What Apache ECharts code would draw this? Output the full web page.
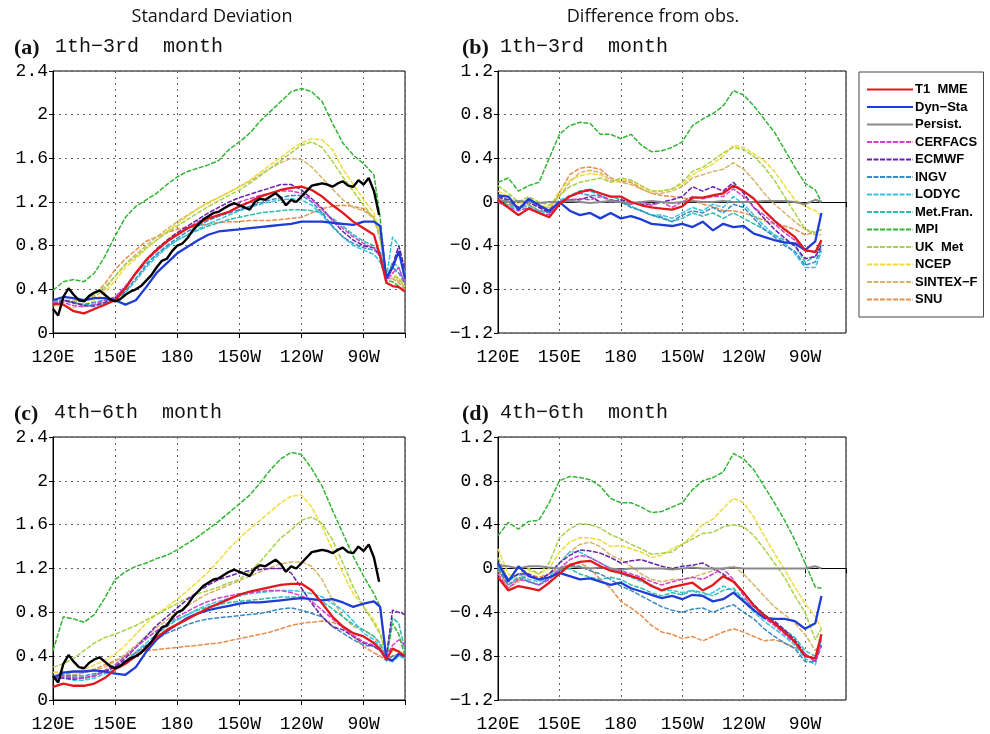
<!DOCTYPE html>
<html>
<head>
<meta charset="utf-8">
<script src="https://cdn.jsdelivr.net/npm/echarts@6/dist/echarts.min.js"></script>
<style>
  html, body { margin: 0; padding: 0; background: #fff; }
  #chart { width: 990px; height: 734px; }
</style>
</head>
<body>
<div id="chart"></div>
<script>
// longitude grids (degrees east)
const lonS = [120,125,130,135,140,145,150,155,160,165,170,175,180,185,190,195,200,205,210,215,220,225,230,235,240,245,250,255,260,265,270,275,278,281,284,287,290];
const lonD = [120,125,130,135,140,145,150,155,160,165,170,175,180,185,190,195,200,205,210,215,220,225,230,235,240,245,250,255,260,265,270,275,278];
const lonObs = [120,122.5,125,127.5,130,132.5,135,137.5,140,142.5,145,147.5,150,152.5,155,157.5,160,162.5,165,167.5,170,172.5,175,177.5,180,182.5,185,187.5,190,192.5,195,197.5,200,202.5,205,207.5,210,212.5,215,217.5,220,222.5,225,227.5,230,232.5,235,237.5,240,242.5,245,247.5,250,252.5,255,257.5,260,262.5,265,267.5,270,272.5,275,277.5];

const xTicks = {120: '120E', 150: '150E', 180: '180', 210: '150W', 240: '120W', 270: '90W'};

// observed std (black)
const obsStd = [0.22,0.16,0.33,0.41,0.35,0.30,0.29,0.34,0.37,0.39,0.35,0.31,0.29,0.31,0.35,0.38,0.40,0.43,0.48,0.53,0.60,0.66,0.68,0.75,0.80,0.82,0.87,0.94,0.99,1.04,1.07,1.10,1.11,1.14,1.17,1.19,1.17,1.15,1.13,1.20,1.23,1.22,1.25,1.28,1.24,1.17,1.22,1.20,1.25,1.30,1.35,1.36,1.37,1.36,1.34,1.37,1.39,1.35,1.34,1.40,1.36,1.42,1.30,1.08];

// (a) std, 1th-3rd month
const t1A = [0.27,0.26,0.20,0.18,0.22,0.26,0.30,0.41,0.55,0.67,0.76,0.84,0.90,0.96,1.00,1.05,1.08,1.11,1.16,1.20,1.25,1.28,1.31,1.33,1.34,1.31,1.25,1.17,1.10,1.02,0.96,0.90,0.70,0.46,0.43,0.42,0.38];
const dynA = [0.30,0.33,0.32,0.30,0.32,0.32,0.30,0.26,0.30,0.42,0.55,0.64,0.73,0.79,0.85,0.90,0.93,0.94,0.95,0.96,0.97,0.98,0.99,1.00,1.02,1.02,1.02,1.01,1.00,0.99,1.02,1.02,0.98,0.50,0.60,0.75,0.50];
const cerfacsA = [0.28,0.28,0.25,0.24,0.26,0.30,0.33,0.43,0.55,0.66,0.75,0.83,0.90,0.96,1.02,1.07,1.12,1.16,1.20,1.23,1.26,1.28,1.30,1.30,1.28,1.22,1.13,1.04,0.96,0.88,0.82,0.78,0.70,0.48,0.55,0.60,0.45];
const ecmwfA = [0.25,0.30,0.28,0.25,0.25,0.28,0.32,0.42,0.55,0.67,0.77,0.85,0.92,0.98,1.04,1.10,1.15,1.20,1.24,1.27,1.30,1.33,1.36,1.36,1.31,1.23,1.14,1.03,0.93,0.85,0.80,0.78,0.70,0.50,0.62,0.80,0.58];
const ingvA = [0.30,0.30,0.27,0.26,0.28,0.30,0.31,0.38,0.50,0.62,0.72,0.80,0.87,0.93,0.98,1.03,1.07,1.10,1.13,1.16,1.19,1.22,1.24,1.26,1.26,1.20,1.10,0.98,0.88,0.82,0.78,0.76,0.72,0.50,0.60,0.55,0.45];
const lodycA = [0.27,0.30,0.28,0.25,0.24,0.28,0.30,0.37,0.48,0.60,0.70,0.78,0.85,0.90,0.95,1.00,1.04,1.08,1.12,1.15,1.18,1.20,1.22,1.23,1.22,1.17,1.08,0.97,0.88,0.80,0.76,0.72,0.65,0.50,0.88,0.80,0.55];
const metfrA = [0.26,0.30,0.28,0.26,0.26,0.28,0.32,0.42,0.54,0.64,0.72,0.79,0.85,0.90,0.94,0.98,1.01,1.04,1.06,1.08,1.10,1.11,1.12,1.13,1.13,1.12,1.10,1.05,0.98,0.90,0.84,0.80,0.75,0.50,0.65,0.60,0.45];
const mpiA = [0.39,0.47,0.49,0.47,0.55,0.70,0.89,1.06,1.16,1.22,1.28,1.36,1.43,1.48,1.51,1.54,1.58,1.68,1.75,1.83,1.94,2.03,2.12,2.21,2.24,2.21,2.12,1.92,1.74,1.63,1.55,1.45,1.05,0.48,0.47,0.43,0.37];
const ukA = [0.28,0.30,0.28,0.30,0.35,0.42,0.52,0.63,0.70,0.78,0.85,0.92,0.98,1.04,1.10,1.16,1.21,1.26,1.31,1.37,1.44,1.51,1.58,1.65,1.72,1.75,1.70,1.57,1.43,1.30,1.17,1.05,0.85,0.55,0.52,0.50,0.42];
const ncepA = [0.25,0.25,0.23,0.26,0.30,0.37,0.48,0.60,0.68,0.77,0.85,0.93,1.00,1.07,1.14,1.20,1.24,1.29,1.34,1.40,1.47,1.54,1.61,1.68,1.74,1.78,1.77,1.68,1.50,1.36,1.22,1.10,0.90,0.55,0.55,0.50,0.45];
const sintexA = [0.28,0.30,0.30,0.30,0.33,0.40,0.52,0.63,0.72,0.80,0.88,0.95,1.02,1.08,1.14,1.19,1.24,1.29,1.34,1.39,1.45,1.51,1.56,1.60,1.59,1.52,1.42,1.32,1.22,1.15,1.12,1.05,0.90,0.50,0.50,0.48,0.42];
const snuA = [0.30,0.30,0.28,0.30,0.35,0.45,0.58,0.68,0.76,0.84,0.88,0.92,0.95,0.97,0.98,1.00,1.01,1.02,1.02,1.03,1.03,1.03,1.04,1.05,1.06,1.10,1.14,1.16,1.17,1.16,1.14,1.06,0.90,0.50,0.50,0.46,0.40];

// (c) std, 4th-6th month
const t1C = [0.12,0.15,0.13,0.13,0.15,0.20,0.28,0.33,0.40,0.47,0.57,0.64,0.69,0.74,0.79,0.84,0.88,0.92,0.96,0.99,1.01,1.03,1.05,1.06,1.06,1.00,0.88,0.76,0.67,0.61,0.58,0.52,0.46,0.37,0.47,0.44,0.40];
const dynC = [0.20,0.25,0.26,0.26,0.27,0.26,0.24,0.23,0.30,0.44,0.55,0.63,0.69,0.75,0.79,0.82,0.84,0.86,0.88,0.89,0.89,0.90,0.91,0.92,0.93,0.92,0.91,0.92,0.89,0.85,0.88,0.90,0.85,0.38,0.36,0.42,0.40];
const cerfacsC = [0.20,0.22,0.20,0.20,0.22,0.27,0.32,0.40,0.48,0.56,0.63,0.70,0.76,0.81,0.86,0.90,0.93,0.95,0.97,0.98,0.99,1.00,1.00,0.98,0.95,0.90,0.82,0.74,0.66,0.59,0.53,0.50,0.46,0.40,0.50,0.55,0.50];
const ecmwfC = [0.20,0.20,0.19,0.20,0.22,0.26,0.30,0.38,0.48,0.58,0.68,0.76,0.84,0.92,0.99,1.05,1.10,1.13,1.16,1.18,1.19,1.20,1.20,1.16,1.02,0.88,0.76,0.67,0.64,0.58,0.52,0.49,0.45,0.40,0.82,0.80,0.78];
const ingvC = [0.22,0.23,0.22,0.22,0.24,0.26,0.30,0.36,0.43,0.50,0.56,0.61,0.65,0.69,0.72,0.74,0.75,0.76,0.77,0.78,0.79,0.81,0.83,0.84,0.82,0.79,0.76,0.67,0.61,0.55,0.50,0.49,0.45,0.36,0.40,0.42,0.40];
const lodycC = [0.20,0.20,0.18,0.18,0.20,0.24,0.28,0.35,0.44,0.52,0.60,0.67,0.73,0.78,0.83,0.87,0.90,0.93,0.95,0.97,0.98,0.99,1.00,1.00,0.99,0.97,0.94,0.88,0.82,0.72,0.61,0.55,0.48,0.36,0.35,0.40,0.38];
const metfrC = [0.22,0.22,0.20,0.20,0.22,0.27,0.32,0.40,0.48,0.56,0.63,0.69,0.74,0.78,0.82,0.85,0.87,0.89,0.90,0.91,0.92,0.93,0.94,0.94,0.94,0.92,0.90,0.83,0.76,0.69,0.64,0.58,0.52,0.38,0.75,0.70,0.45];
const mpiC = [0.45,0.76,0.74,0.71,0.78,0.93,1.10,1.17,1.22,1.25,1.29,1.32,1.37,1.43,1.49,1.56,1.63,1.71,1.79,1.87,1.98,2.10,2.20,2.26,2.24,2.11,1.95,1.73,1.52,1.31,1.13,0.97,0.85,0.38,0.70,0.60,0.40];
const ukC = [0.30,0.33,0.38,0.45,0.52,0.57,0.60,0.64,0.68,0.73,0.78,0.83,0.88,0.93,0.97,1.00,1.03,1.07,1.10,1.17,1.26,1.37,1.48,1.55,1.64,1.67,1.61,1.46,1.25,1.03,0.85,0.70,0.60,0.40,0.45,0.45,0.38];
const ncepC = [0.25,0.26,0.25,0.28,0.32,0.36,0.42,0.50,0.60,0.70,0.78,0.85,0.92,1.00,1.08,1.17,1.27,1.38,1.48,1.56,1.64,1.72,1.80,1.86,1.87,1.76,1.58,1.37,1.16,0.97,0.85,0.73,0.62,0.38,0.45,0.45,0.38];
const sintexC = [0.25,0.25,0.23,0.25,0.27,0.30,0.35,0.42,0.50,0.58,0.66,0.73,0.80,0.86,0.92,0.97,1.01,1.05,1.09,1.13,1.17,1.21,1.24,1.26,1.26,1.22,1.10,0.91,0.76,0.67,0.64,0.58,0.50,0.38,0.40,0.40,0.38];
const snuC = [0.22,0.22,0.22,0.25,0.28,0.32,0.36,0.40,0.43,0.45,0.46,0.47,0.48,0.49,0.50,0.51,0.52,0.54,0.56,0.58,0.60,0.62,0.65,0.68,0.70,0.71,0.72,0.71,0.67,0.58,0.49,0.43,0.40,0.36,0.40,0.42,0.40];

// (b) difference from obs, 1th-3rd month
const t1B = [0.02,-0.05,-0.12,-0.06,-0.10,-0.14,-0.02,0.05,0.09,0.11,0.08,0.05,0.05,0.00,-0.03,-0.05,-0.06,-0.07,-0.04,0.04,0.04,0.06,0.08,0.15,0.10,0.03,-0.08,-0.17,-0.25,-0.32,-0.44,-0.46,-0.35];
const dynB = [0.06,0.05,-0.07,0.03,-0.03,-0.08,0.00,-0.08,-0.12,-0.10,-0.15,-0.10,-0.15,-0.13,-0.16,-0.20,-0.21,-0.22,-0.20,-0.23,-0.18,-0.26,-0.20,-0.23,-0.22,-0.29,-0.32,-0.35,-0.37,-0.38,-0.44,-0.36,-0.10];
const persB = [0.02,0.00,0.01,0.00,-0.01,0.00,0.00,0.01,0.00,-0.01,0.00,0.01,0.00,-0.01,0.00,0.01,0.00,-0.01,0.00,0.01,0.00,0.00,0.01,0.00,0.00,0.00,0.01,0.01,0.01,0.00,-0.02,0.02,0.00];
const cerfacsB = [0.00,-0.05,-0.08,-0.05,-0.10,-0.12,0.00,0.02,0.03,0.02,0.05,0.02,0.00,-0.02,0.00,-0.03,0.00,-0.05,0.00,0.05,0.03,0.05,0.05,0.12,0.05,-0.05,-0.12,-0.20,-0.28,-0.35,-0.45,-0.45,-0.35];
const ecmwfB = [0.05,0.02,-0.05,0.00,-0.05,-0.10,0.00,0.02,0.02,0.05,0.00,0.00,0.02,0.00,-0.02,-0.02,0.00,0.02,0.05,0.14,0.10,0.14,0.10,0.18,0.08,-0.05,-0.15,-0.25,-0.33,-0.40,-0.52,-0.50,-0.40];
const ingvB = [0.05,0.00,-0.05,0.00,-0.05,-0.08,0.00,0.05,0.08,0.06,0.06,0.02,0.00,-0.05,-0.08,-0.12,-0.14,-0.18,-0.12,-0.08,-0.10,-0.05,-0.10,-0.02,-0.05,-0.15,-0.25,-0.32,-0.40,-0.45,-0.58,-0.55,-0.42];
const lodycB = [0.00,-0.03,-0.08,-0.05,-0.08,-0.10,0.02,0.05,0.10,0.10,0.06,0.00,0.00,-0.04,-0.08,-0.12,-0.12,-0.15,-0.10,-0.05,-0.08,-0.02,-0.05,0.05,-0.02,-0.12,-0.22,-0.30,-0.38,-0.47,-0.60,-0.60,-0.45];
const metfrB = [0.02,-0.03,-0.06,-0.03,-0.08,-0.10,0.00,0.06,0.10,0.12,0.08,0.05,0.02,-0.04,-0.08,-0.12,-0.15,-0.18,-0.15,-0.10,-0.13,-0.10,-0.15,-0.10,-0.15,-0.20,-0.25,-0.30,-0.35,-0.40,-0.55,-0.50,-0.38];
const mpiB = [0.18,0.22,0.10,0.15,0.18,0.40,0.62,0.70,0.73,0.72,0.62,0.62,0.58,0.62,0.52,0.46,0.47,0.50,0.55,0.70,0.76,0.81,0.88,1.02,0.98,0.88,0.76,0.64,0.48,0.32,0.17,0.11,0.00];
const ukB = [0.15,0.08,0.00,0.05,0.00,-0.03,0.06,0.14,0.18,0.20,0.22,0.18,0.22,0.20,0.15,0.10,0.10,0.12,0.18,0.28,0.32,0.38,0.45,0.50,0.48,0.42,0.32,0.20,0.05,-0.10,-0.25,-0.28,-0.25];
const ncepB = [0.10,0.05,-0.02,0.03,-0.03,-0.05,0.10,0.20,0.24,0.26,0.25,0.18,0.20,0.20,0.14,0.10,0.10,0.12,0.16,0.25,0.30,0.35,0.42,0.52,0.50,0.44,0.38,0.28,0.15,0.02,-0.04,-0.08,-0.13];
const sintexB = [0.05,0.00,-0.05,0.00,-0.05,-0.05,0.05,0.18,0.27,0.29,0.27,0.20,0.18,0.16,0.12,0.08,0.08,0.10,0.14,0.22,0.25,0.28,0.30,0.36,0.30,0.20,0.08,-0.02,-0.10,-0.18,-0.25,-0.30,-0.30];
const snuB = [0.05,-0.02,-0.05,-0.02,-0.08,-0.08,0.08,0.25,0.31,0.32,0.30,0.22,0.19,0.18,0.12,0.08,0.06,0.05,0.04,0.02,-0.02,-0.04,-0.08,-0.08,-0.10,-0.13,-0.17,-0.20,-0.22,-0.25,-0.30,-0.28,-0.25];

// (d) difference from obs, 4th-6th month
const t1D = [-0.08,-0.20,-0.16,-0.18,-0.20,-0.13,-0.05,0.03,0.06,0.07,0.02,-0.02,-0.04,-0.07,-0.10,-0.16,-0.20,-0.17,-0.15,-0.13,-0.20,-0.15,-0.07,-0.12,-0.22,-0.34,-0.43,-0.50,-0.58,-0.67,-0.80,-0.82,-0.60];
const dynD = [0.05,-0.12,0.02,-0.07,-0.10,-0.08,-0.04,-0.07,-0.10,-0.09,-0.12,-0.15,-0.13,-0.18,-0.21,-0.24,-0.27,-0.25,-0.28,-0.24,-0.25,-0.30,-0.28,-0.22,-0.30,-0.38,-0.45,-0.46,-0.46,-0.48,-0.55,-0.50,-0.25];
const persD = [0.03,0.02,0.00,0.02,0.02,0.01,0.00,0.02,0.01,0.00,0.01,0.00,-0.01,0.00,0.00,0.00,0.00,-0.01,0.00,0.01,0.00,0.00,0.00,0.01,0.00,0.00,0.00,0.00,0.00,0.00,0.00,0.02,0.00];
const cerfacsD = [-0.05,-0.18,-0.10,-0.12,-0.15,-0.10,0.00,0.08,0.12,0.10,0.05,0.00,-0.02,-0.05,-0.08,-0.12,-0.15,-0.12,-0.10,-0.08,-0.10,-0.05,0.00,-0.10,-0.25,-0.38,-0.45,-0.52,-0.60,-0.68,-0.78,-0.85,-0.70];
const ecmwfD = [0.05,-0.10,-0.05,-0.05,-0.10,-0.05,0.05,0.12,0.17,0.16,0.14,0.10,0.05,0.07,0.08,0.05,0.02,0.00,0.02,0.03,0.05,0.00,-0.05,-0.12,-0.22,-0.33,-0.42,-0.48,-0.56,-0.65,-0.78,-0.85,-0.70];
const ingvD = [0.00,-0.15,-0.08,-0.12,-0.15,-0.08,-0.02,0.03,0.02,-0.02,-0.05,-0.10,-0.16,-0.20,-0.25,-0.30,-0.35,-0.38,-0.40,-0.37,-0.36,-0.40,-0.36,-0.33,-0.40,-0.46,-0.55,-0.62,-0.68,-0.73,-0.85,-0.85,-0.62];
const lodycD = [0.00,-0.12,-0.05,-0.10,-0.12,-0.08,0.05,0.15,0.15,0.10,0.05,0.00,-0.05,-0.08,-0.12,-0.15,-0.20,-0.20,-0.22,-0.20,-0.25,-0.22,-0.16,-0.20,-0.30,-0.40,-0.48,-0.55,-0.62,-0.70,-0.82,-0.88,-0.65];
const metfrD = [0.02,-0.10,-0.05,-0.12,-0.15,-0.10,-0.02,0.00,-0.05,-0.08,-0.10,-0.08,-0.10,-0.15,-0.18,-0.22,-0.25,-0.22,-0.24,-0.20,-0.22,-0.25,-0.20,-0.18,-0.28,-0.35,-0.42,-0.50,-0.56,-0.63,-0.75,-0.80,-0.65];
const mpiD = [0.30,0.42,0.36,0.43,0.44,0.60,0.80,0.84,0.83,0.81,0.75,0.64,0.60,0.60,0.56,0.51,0.52,0.56,0.60,0.72,0.80,0.83,0.88,1.05,1.00,0.90,0.75,0.60,0.44,0.26,0.05,-0.17,-0.18];
const ukD = [0.10,-0.10,-0.05,0.00,-0.05,0.05,0.28,0.36,0.41,0.40,0.37,0.31,0.27,0.22,0.18,0.13,0.14,0.15,0.22,0.27,0.32,0.33,0.38,0.40,0.38,0.30,0.18,0.05,-0.08,-0.25,-0.40,-0.65,-0.55];
const ncepD = [0.18,-0.05,-0.10,-0.02,-0.05,0.00,0.15,0.24,0.28,0.28,0.26,0.20,0.21,0.18,0.15,0.10,0.12,0.18,0.22,0.30,0.40,0.45,0.55,0.64,0.60,0.47,0.30,0.14,-0.01,-0.17,-0.32,-0.44,-0.55];
const sintexD = [0.00,-0.18,-0.12,-0.05,-0.10,-0.05,0.05,0.15,0.22,0.24,0.20,0.12,0.08,0.02,-0.05,-0.10,-0.12,-0.10,-0.10,-0.08,-0.05,-0.02,0.00,0.02,-0.05,-0.15,-0.25,-0.35,-0.42,-0.50,-0.60,-0.75,-0.65];
const snuD = [-0.02,-0.15,-0.10,-0.05,-0.08,-0.05,0.00,0.04,0.05,0.00,-0.10,-0.18,-0.30,-0.36,-0.43,-0.52,-0.58,-0.60,-0.64,-0.62,-0.66,-0.62,-0.58,-0.55,-0.58,-0.62,-0.66,-0.65,-0.68,-0.72,-0.78,-0.85,-0.70];

// legend order
const names = ['T1  MME', 'Dyn\u2212Sta', 'Persist.', 'CERFACS', 'ECMWF', 'INGV', 'LODYC', 'Met.Fran.', 'MPI', 'UK  Met', 'NCEP', 'SINTEX\u2212F', 'SNU'];
const colors = ['#e3171c', '#1f3cd6', '#8a8a8a', '#d042cf', '#6a1eae', '#3a8bc4', '#36c4e4', '#2cbdad', '#33b534', '#a7d24a', '#efdc3c', '#d8b468', '#e78e4c'];

const chart = echarts.init(document.getElementById('chart'));

const tickFont = 'Liberation Mono';

function lineOf(i) {
    if (i === 0 || i === 1) return {color: colors[i], width: 2.3, type: 'solid'};
    if (i === 2) return {color: colors[i], width: 2, type: 'solid'};
    return {color: colors[i], width: 1.5, type: [5, 1.5]};
}

function mkSeries(idx, lon, vals, i) {
    return {
        name: names[i], type: 'line', xAxisIndex: idx, yAxisIndex: idx,
        data: lon.map(function (x, k) { return [x, vals[k]]; }),
        symbol: 'none', silent: true, animation: false,
        lineStyle: lineOf(i), itemStyle: {color: colors[i]},
        z: i < 3 ? 5 : 3
    };
}

function panelSeries(idx, lon, list, withObs) {
    const out = [];
    // dashed models first, thick lines on top
    for (let i = list.length - 1; i >= 0; i--) {
        if (list[i]) out.push(mkSeries(idx, lon, list[i], i));
    }
    if (withObs) {
        out.push({
            name: 'obs', type: 'line', xAxisIndex: idx, yAxisIndex: idx,
            data: lonObs.map(function (x, k) { return [x, obsStd[k]]; }),
            symbol: 'none', silent: true, animation: false,
            lineStyle: {color: '#000', width: 2.4}, itemStyle: {color: '#000'}, z: 6
        });
    }
    return out;
}

const grids = [
    {left: 53, top: 71, width: 352, height: 262},
    {left: 498, top: 71, width: 348, height: 262},
    {left: 53, top: 437, width: 352, height: 263},
    {left: 498, top: 437, width: 348, height: 263}
];

function xAx(i) {
    return {
        gridIndex: i, type: 'value', min: 120, max: 290, interval: 30,
        axisLine: {show: true, lineStyle: {color: '#000', width: 1}},
        axisTick: {show: true, length: 5, lineStyle: {color: '#000'}},
        axisLabel: {
            margin: 15, color: '#000', fontSize: 18, fontFamily: tickFont,
            formatter: function (v) { return xTicks[v] || ''; }
        },
        splitLine: {show: true, lineStyle: {color: '#666', type: [2, 4], width: 1}}
    };
}

function yFmt(v) {
    const a = Math.round(Math.abs(v) * 10) / 10;
    return (v < 0 ? '\u2212' : '') + String(a);
}

function yAx(i, lo, hi) {
    return {
        gridIndex: i, type: 'value', min: lo, max: hi, interval: 0.4,
        axisLine: {show: true, lineStyle: {color: '#000', width: 1}},
        axisTick: {show: true, length: 4, lineStyle: {color: '#000'}},
        axisLabel: {margin: 5, color: '#000', fontSize: 18, fontFamily: tickFont, formatter: yFmt},
        splitLine: {show: true, lineStyle: {color: '#666', type: [2, 4], width: 1}}
    };
}

function txt(x, y, s, font, size, weight, align) {
    return {
        type: 'text', x: x, y: y, silent: true,
        style: {text: s, fontFamily: font, fontSize: size, fontWeight: weight || 'normal',
                fill: '#111', align: align || 'left', verticalAlign: 'middle'}
    };
}

const option = {
    backgroundColor: '#fff',
    animation: false,
    grid: grids.map(function (g) {
        return Object.assign({show: true, borderColor: '#000', borderWidth: 1, backgroundColor: 'transparent'}, g);
    }),
    xAxis: [xAx(0), xAx(1), xAx(2), xAx(3)],
    yAxis: [yAx(0, 0, 2.4), yAx(1, -1.2, 1.2), yAx(2, 0, 2.4), yAx(3, -1.2, 1.2)],
    legend: {
        data: names, orient: 'vertical', left: 859, top: 72,
        itemWidth: 46, itemHeight: 12, itemGap: 4.5,
        padding: [11, 6, 11, 7],
        itemStyle: {opacity: 0},
        borderColor: '#444', borderWidth: 1, selectedMode: false,
        textStyle: {fontFamily: 'Liberation Sans', fontWeight: 'bold', fontSize: 13, color: '#000', lineHeight: 12, padding: [0, 0, 0, -3]}
    },
    graphic: [
        txt(212, 17, 'Standard Deviation', 'Open Sans', 18, 'normal', 'center'),
        txt(653, 17, 'Difference from obs.', 'Open Sans', 18, 'normal', 'center'),
        txt(14, 48, '(a)', 'Liberation Serif', 22, 'bold'),
        txt(55, 47, '1th\u22123rd  month', tickFont, 20),
        txt(462, 48, '(b)', 'Liberation Serif', 22, 'bold'),
        txt(500, 47, '1th\u22123rd  month', tickFont, 20),
        txt(14, 414, '(c)', 'Liberation Serif', 22, 'bold'),
        txt(54, 413, '4th\u22126th  month', tickFont, 20),
        txt(462, 414, '(d)', 'Liberation Serif', 22, 'bold'),
        txt(500, 413, '4th\u22126th  month', tickFont, 20)
    ],
    series: [].concat(
        panelSeries(0, lonS, [t1A, dynA, null, cerfacsA, ecmwfA, ingvA, lodycA, metfrA, mpiA, ukA, ncepA, sintexA, snuA], true),
        panelSeries(1, lonD, [t1B, dynB, persB, cerfacsB, ecmwfB, ingvB, lodycB, metfrB, mpiB, ukB, ncepB, sintexB, snuB], false),
        panelSeries(2, lonS, [t1C, dynC, null, cerfacsC, ecmwfC, ingvC, lodycC, metfrC, mpiC, ukC, ncepC, sintexC, snuC], true),
        panelSeries(3, lonD, [t1D, dynD, persD, cerfacsD, ecmwfD, ingvD, lodycD, metfrD, mpiD, ukD, ncepD, sintexD, snuD], false)
    )
};

chart.setOption(option);
</script>
</body>
</html>
